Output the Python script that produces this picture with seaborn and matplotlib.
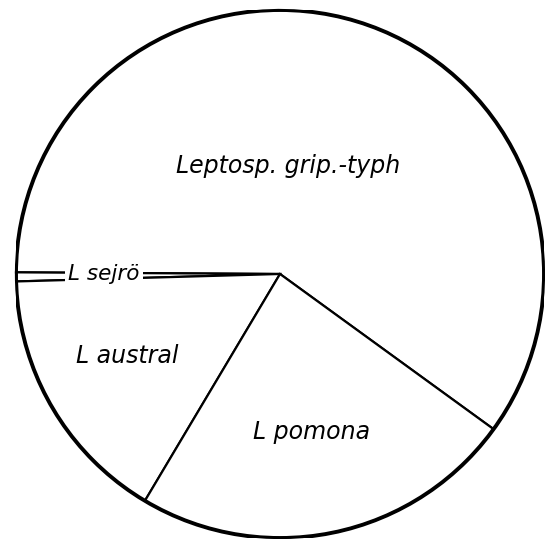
import matplotlib
matplotlib.use("Agg")
import matplotlib.pyplot as plt
import seaborn as sns
from matplotlib.patches import Circle

labels = ["Leptosp. grip.-typh", "L sejrö", "L austral", "L pomona"]
values = [59.9, 0.55, 16.0, 23.55]
label_pos = [(0.03, 0.41), (-0.667, 0.0), (-0.58, -0.31), (0.12, -0.60)]
label_size = [17, 15.5, 17, 17]

sns.set_theme(style="white")
plt.rcParams['font.family'] = ['DejaVu Sans']

fig = plt.figure(figsize=(5.45, 5.39), dpi=100)
ax = fig.add_axes([16 / 545, 1 / 539, 528 / 545, 528 / 539])
ax.pie(values, startangle=-36, counterclock=True, radius=1.0,
       colors=["white"] * len(values),
       wedgeprops=dict(edgecolor="black", linewidth=1.6))
ax.add_patch(Circle((0, 0), 1.0, fill=False, edgecolor="black", linewidth=2.8, zorder=5))

for lab, (x, y), fs in zip(labels, label_pos, label_size):
    kw = {}
    if lab == "L sejrö":
        kw["bbox"] = dict(facecolor="white", edgecolor="none", pad=2.5)
    ax.text(x, y, lab, ha="center", va="center", fontsize=fs, style="italic",
            color="black", zorder=6, **kw)

ax.set_xlim(-1, 1)
ax.set_ylim(-1, 1)
ax.set_aspect("auto")
ax.axis("off")
fig.savefig("out.png", dpi=100, facecolor="white")
